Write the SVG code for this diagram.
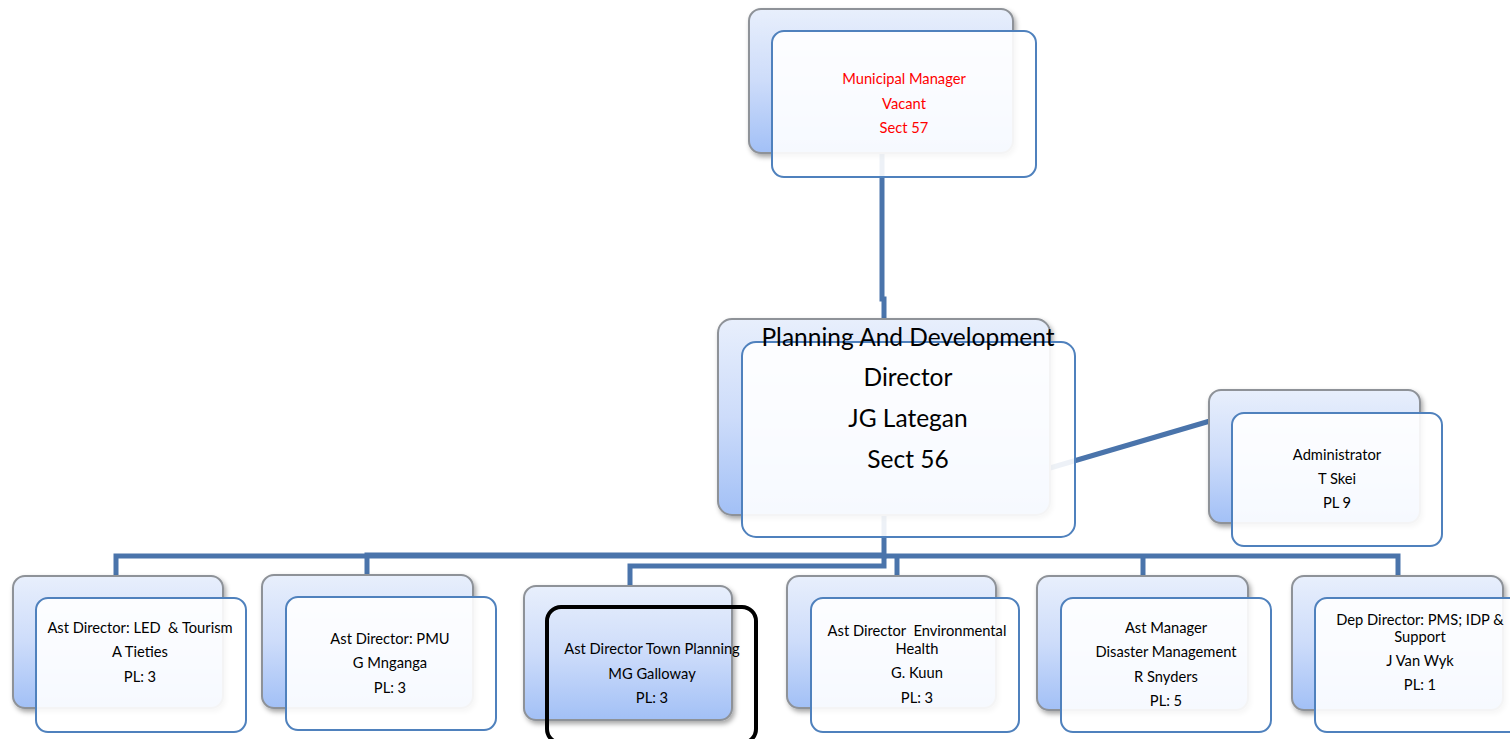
<svg xmlns="http://www.w3.org/2000/svg" width="1510" height="739" viewBox="0 0 1510 739">
  <defs>
    <linearGradient id="backFill" x1="0" y1="0" x2="0" y2="1">
      <stop offset="0" stop-color="#e8effc"/>
      <stop offset="0.5" stop-color="#cddcfa"/>
      <stop offset="1" stop-color="#a2c0f6"/>
    </linearGradient>
    <filter id="shadow" x="-10%" y="-10%" width="125%" height="130%">
      <feDropShadow dx="2" dy="3" stdDeviation="2.5" flood-color="#000" flood-opacity="0.35"/>
    </filter>
    <style>
      .back { fill: url(#backFill); stroke: #8e9298; stroke-width: 2; filter: url(#shadow); }
      .front { fill: #ffffff; fill-opacity: 0.9; stroke: #4f81bd; stroke-width: 2; }
      .frontHi { fill: none; stroke: #000; stroke-width: 4; }
      .conn { fill: none; stroke: #4a74ab; stroke-width: 5; stroke-linejoin: miter; }
      text { font-family: Lato, "Liberation Sans", sans-serif; font-size: 14.7px; fill: #000; text-anchor: middle; white-space: pre; }
      .red { fill: #ff0000; }
      .big { font-size: 24.5px; }
    </style>
  </defs>

  <rect width="1510" height="739" fill="#ffffff"/>

  <!-- reporting lines -->
  <g id="connectors">
    <path class="conn" d="M882,153 V299 H884 V322"/>
    <path class="conn" d="M1050,468 L1210,421"/>
    <path class="conn" d="M884,515 V556 H116 V578"/>
    <path class="conn" d="M367,578 V555 H884"/>
    <path class="conn" d="M884,556 V566 H630 V588"/>
    <path class="conn" d="M884,556 H1398 V578"/>
    <path class="conn" d="M897,556 V578"/>
    <path class="conn" d="M1143,556 V578"/>
  </g>

  <g id="municipal-manager">
    <rect class="back" x="749" y="9" width="264" height="144" rx="12"/>
    <rect class="front" x="772" y="31" width="264" height="146" rx="12"/>
    <text class="red" x="904" y="84">Municipal Manager</text>
    <text class="red" x="904" y="109">Vacant</text>
    <text class="red" x="904" y="133">Sect 57</text>
  </g>

  <g id="planning-director">
    <rect class="back" x="718" y="319" width="332" height="196" rx="14"/>
    <rect class="front" x="742" y="342" width="333" height="195" rx="14"/>
    <text class="big" x="908" y="346">Planning And Development</text>
    <text class="big" x="908" y="386">Director</text>
    <text class="big" x="908" y="427">JG Lategan</text>
    <text class="big" x="908" y="468">Sect 56</text>
  </g>

  <g id="administrator">
    <rect class="back" x="1209" y="390" width="211" height="133" rx="12"/>
    <rect class="front" x="1232" y="413" width="210" height="133" rx="12"/>
    <text x="1337" y="460">Administrator</text>
    <text x="1337" y="484">T Skei</text>
    <text x="1337" y="508">PL 9</text>
  </g>

  <g id="led-tourism">
    <rect class="back" x="13" y="576" width="210" height="132" rx="12"/>
    <rect class="front" x="36" y="598" width="210" height="134" rx="12"/>
    <text x="140" y="633">Ast Director: LED  &amp; Tourism</text>
    <text x="140" y="657">A Tieties</text>
    <text x="140" y="682">PL: 3</text>
  </g>

  <g id="pmu">
    <rect class="back" x="262" y="575" width="211" height="133" rx="12"/>
    <rect class="front" x="286" y="597" width="210" height="133" rx="12"/>
    <text x="390" y="644">Ast Director: PMU</text>
    <text x="390" y="668">G Mnganga</text>
    <text x="390" y="693">PL: 3</text>
  </g>

  <g id="town-planning">
    <rect class="back" x="524" y="586" width="208" height="134" rx="12"/>
    <rect class="frontHi" x="547" y="607" width="209" height="136" rx="14"/>
    <text x="652" y="654">Ast Director Town Planning</text>
    <text x="652" y="679">MG Galloway</text>
    <text x="652" y="703">PL: 3</text>
  </g>

  <g id="environmental-health">
    <rect class="back" x="787" y="576" width="209" height="132" rx="12"/>
    <rect class="front" x="811" y="598" width="208" height="134" rx="12"/>
    <text x="917" y="636">Ast Director  Environmental</text>
    <text x="917" y="654">Health</text>
    <text x="917" y="678">G. Kuun</text>
    <text x="917" y="703">PL: 3</text>
  </g>

  <g id="disaster-management">
    <rect class="back" x="1037" y="576" width="211" height="134" rx="12"/>
    <rect class="front" x="1061" y="598" width="210" height="134" rx="12"/>
    <text x="1166" y="633">Ast Manager</text>
    <text x="1166" y="657">Disaster Management</text>
    <text x="1166" y="682">R Snyders</text>
    <text x="1166" y="706">PL: 5</text>
  </g>

  <g id="pms-idp-support">
    <rect class="back" x="1292" y="576" width="211" height="134" rx="12"/>
    <rect class="front" x="1315" y="598" width="210" height="134" rx="12"/>
    <text x="1420" y="625">Dep Director: PMS; IDP &amp;</text>
    <text x="1420" y="642">Support</text>
    <text x="1420" y="666">J Van Wyk</text>
    <text x="1420" y="690">PL: 1</text>
  </g>
</svg>
